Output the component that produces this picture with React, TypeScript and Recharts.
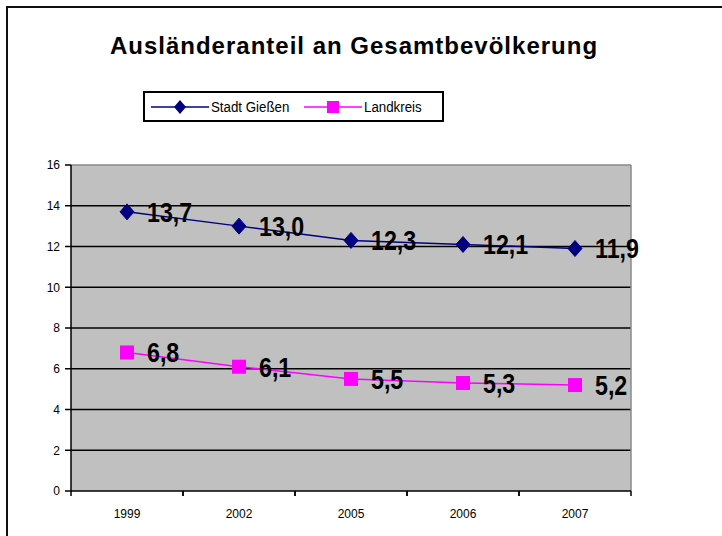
import React from 'react';
import {
  LineChart,
  Line,
  XAxis,
  YAxis,
  CartesianGrid,
  Legend,
  LabelList,
} from 'recharts';

const categories = ['1999', '2002', '2005', '2006', '2007'];
const stadtGiessen = [13.7, 13.0, 12.3, 12.1, 11.9];
const landkreis = [6.8, 6.1, 5.5, 5.3, 5.2];
const yTicks = [0, 2, 4, 6, 8, 10, 12, 14, 16];
const gridValues = [2, 4, 6, 8, 10, 12, 14];
const seriesNames = ['Stadt Gießen', 'Landkreis'];

const data = categories.map((c, i) => ({
  year: c,
  stadt: stadtGiessen[i],
  land: landkreis[i],
}));

const W = 722;
const H = 536;
const PLOT_LEFT = 71;
const PLOT_RIGHT = 631;
const PLOT_TOP = 165;
const HALF_BAND = (PLOT_RIGHT - PLOT_LEFT) / categories.length / 2;

const NAVY = '#000080';
const MAGENTA = '#FF00FF';
const SANS = "'Liberation Sans', Arial, sans-serif";

const Diamond = (props: any) => {
  const { cx, cy } = props;
  if (cx == null || cy == null) return null;
  return (
    <polygon
      points={`${cx},${cy - 8} ${cx + 7},${cy} ${cx},${cy + 8} ${cx - 7},${cy}`}
      fill={NAVY}
      stroke={NAVY}
    />
  );
};

const Square = (props: any) => {
  const { cx, cy } = props;
  if (cx == null || cy == null) return null;
  return <rect x={cx - 7} y={cy - 7} width={14} height={14} fill={MAGENTA} />;
};

const ValueLabel = (props: any) => {
  const { x, y, value } = props;
  if (x == null || y == null) return null;
  return (
    <text
      x={0}
      y={0}
      transform={`translate(${x + 20},${y}) scale(0.83,1)`}
      dominantBaseline="central"
      fontFamily={SANS}
      fontWeight="bold"
      fontSize={28}
      fill="#000"
    >
      {Number(value).toFixed(1).replace('.', ',')}
    </text>
  );
};

const XTick = (props: any) => {
  const { x, y, payload } = props;
  return (
    <g>
      <line x1={x - HALF_BAND} x2={x - HALF_BAND} y1={y} y2={y + 5} stroke="#000" strokeWidth={1.5} />
      <line x1={x + HALF_BAND} x2={x + HALF_BAND} y1={y} y2={y + 5} stroke="#000" strokeWidth={1.5} />
      <text x={x} y={y + 27} textAnchor="middle" fontFamily={SANS} fontSize={12} fill="#000">
        {payload.value}
      </text>
    </g>
  );
};

const LegendContent = (props: any) => {
  const { payload } = props;
  const items = [...(payload || [])].sort(
    (a: any, b: any) => seriesNames.indexOf(a.value) - seriesNames.indexOf(b.value)
  );
  return (
    <div
      style={{
        width: 301,
        height: 31,
        boxSizing: 'border-box',
        border: '2px solid #000',
        background: '#fff',
        display: 'flex',
        alignItems: 'center',
        paddingLeft: 6,
      }}
    >
      {items.map((p: any, i: number) => (
        <div key={i} style={{ display: 'flex', alignItems: 'center', marginRight: 10 }}>
          <svg width={58} height={18}>
            <line x1={0} x2={58} y1={9} y2={9} stroke={p.color} strokeWidth={1.5} />
            {p.dataKey === 'stadt' ? (
              <polygon points="29,2 35,9 29,16 23,9" fill={p.color} />
            ) : (
              <rect x={23} y={3} width={12} height={12} fill={p.color} />
            )}
          </svg>
          <span
            style={{
              fontFamily: SANS,
              fontSize: 14,
              color: '#000',
              marginLeft: 2,
              display: 'inline-block',
              transform: 'scaleX(0.95)',
              transformOrigin: 'left center',
            }}
          >
            {p.value}
          </span>
        </div>
      ))}
    </div>
  );
};

export default function App() {
  return (
    <div style={{ position: 'absolute', left: 0, top: 0, width: W, height: H, overflow: 'hidden', background: '#fff' }}>
      <div
        style={{
          position: 'absolute',
          left: 6,
          top: 6,
          width: 900,
          height: 900,
          borderLeft: '2px solid #111',
          borderTop: '2px solid #111',
        }}
      />
      <div
        style={{
          position: 'absolute',
          left: 0,
          width: 708,
          top: 31,
          textAlign: 'center',
          fontFamily: SANS,
          fontWeight: 'bold',
          fontSize: 24,
          letterSpacing: 1,
          color: '#000',
          lineHeight: '30px',
        }}
      >
        Ausländeranteil an Gesamtbevölkerung
      </div>
      <div style={{ position: 'absolute', left: 0, top: 0 }}>
        <LineChart width={W} height={H} data={data} margin={{ top: PLOT_TOP, right: W - PLOT_RIGHT, bottom: 0, left: 0 }}>
          <CartesianGrid
            horizontal
            vertical={false}
            fill="#C0C0C0"
            stroke="#000"
            strokeWidth={1.5}
            horizontalValues={gridValues}
          />
          <CartesianGrid
            horizontal
            vertical
            fill="none"
            stroke="#8a8a8a"
            strokeWidth={1.5}
            horizontalPoints={[PLOT_TOP]}
            verticalPoints={[PLOT_RIGHT]}
          />
          <XAxis
            dataKey="year"
            height={45}
            padding={{ left: HALF_BAND, right: HALF_BAND }}
            axisLine={{ stroke: '#000', strokeWidth: 1.5 }}
            tickLine={false}
            tickSize={0}
            tickMargin={0}
            tick={<XTick />}
            interval={0}
          />
          <YAxis
            width={PLOT_LEFT}
            domain={[0, 16]}
            ticks={yTicks}
            interval={0}
            axisLine={{ stroke: '#000', strokeWidth: 1.5 }}
            tickLine={{ stroke: '#000', strokeWidth: 1.5 }}
            tickSize={6}
            tickMargin={5}
            tick={{ fontFamily: SANS, fontSize: 12, fill: '#000' }}
          />
          <Legend
            layout="horizontal"
            verticalAlign="middle"
            align="center"
            content={<LegendContent />}
            wrapperStyle={{ position: 'absolute', left: 143, top: 91, width: 301, height: 31 }}
          />
          <Line
            type="linear"
            dataKey="stadt"
            name={seriesNames[0]}
            stroke={NAVY}
            strokeWidth={1.5}
            dot={<Diamond />}
            activeDot={false}
            isAnimationActive={false}
          >
            <LabelList dataKey="stadt" content={<ValueLabel />} />
          </Line>
          <Line
            type="linear"
            dataKey="land"
            name={seriesNames[1]}
            stroke={MAGENTA}
            strokeWidth={1.5}
            dot={<Square />}
            activeDot={false}
            isAnimationActive={false}
          >
            <LabelList dataKey="land" content={<ValueLabel />} />
          </Line>
        </LineChart>
      </div>
    </div>
  );
}
